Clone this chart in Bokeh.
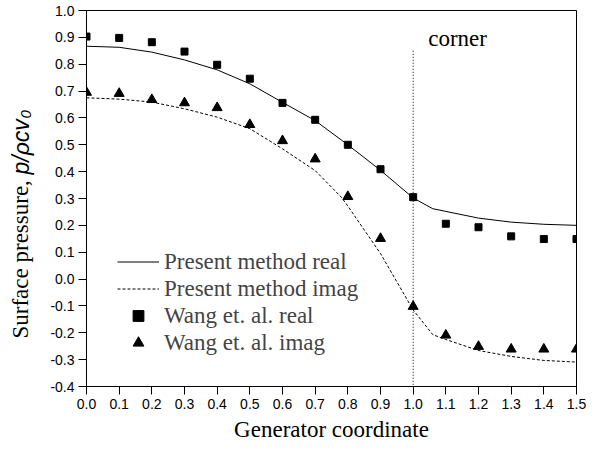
import numpy as np
from bokeh.plotting import figure
from bokeh.layouts import row
from bokeh.models import Legend, LegendItem, Label, Range1d, FixedTicker, PrintfTickFormatter
from bokeh.embed import file_html
from bokeh.resources import INLINE

# ---- data ----
wang_x = [0.0, 0.1, 0.2, 0.3, 0.4, 0.5, 0.6, 0.7, 0.8, 0.9, 1.0, 1.1, 1.2, 1.3, 1.4, 1.5]
wang_real = [0.903, 0.898, 0.882, 0.847, 0.798, 0.746, 0.656, 0.593, 0.500, 0.409, 0.305,
             0.206, 0.193, 0.159, 0.149, 0.149]
wang_imag = [0.695, 0.691, 0.668, 0.656, 0.638, 0.575, 0.515, 0.447, 0.307, 0.151, -0.102,
             -0.209, -0.251, -0.261, -0.261, -0.261]

line_x = [0.0, 0.1, 0.2, 0.3, 0.4, 0.5, 0.6, 0.7, 0.78, 0.8, 0.9, 1.0, 1.06, 1.1, 1.2, 1.3, 1.4, 1.5]
line_real = [0.867, 0.863, 0.845, 0.816, 0.779, 0.727, 0.658, 0.590, 0.518, 0.500, 0.405, 0.302,
             0.262, 0.252, 0.227, 0.212, 0.204, 0.200]
line_imag = [0.675, 0.670, 0.659, 0.634, 0.603, 0.560, 0.485, 0.404, 0.305, 0.272, 0.095, -0.115,
             -0.207, -0.225, -0.266, -0.288, -0.303, -0.309]

corner_x = [1.0, 1.0]
corner_y = [0.85, -0.4]

x_ticks = [round(0.1 * i, 1) for i in range(16)]
y_ticks = [round(-0.4 + 0.1 * i, 1) for i in range(15)]

series_labels = ["Present method real", "Present method imag", "Wang et. al. real", "Wang et. al. imag"]

SERIF = "Liberation Serif"
SANS = "Liberation Sans"

SIDE_W = 40
H = 452
TOP, BOTTOM = 10, 66

p = figure(width=596 - SIDE_W, height=H, output_backend="svg", toolbar_location=None,
           x_range=Range1d(0, 1.5), y_range=Range1d(-0.4, 1.0),
           min_border_left=86 - SIDE_W, min_border_right=20, min_border_top=TOP, min_border_bottom=BOTTOM)
p.background_fill_color = "white"
p.border_fill_color = "white"
p.outline_line_color = "black"
p.outline_line_width = 1
p.xgrid.grid_line_color = None
p.ygrid.grid_line_color = None

for ax, ticks in ((p.xaxis, x_ticks), (p.yaxis, y_ticks)):
    ax.ticker = FixedTicker(ticks=ticks)
    ax.formatter = PrintfTickFormatter(format="%.1f")
    ax.minor_tick_line_color = None
    ax.major_tick_in = 0
    ax.major_tick_out = 8
    ax.major_tick_line_color = "black"
    ax.axis_line_color = "black"
    ax.major_label_text_font = SANS
    ax.major_label_text_font_size = "14px"
    ax.major_label_text_color = "black"
    ax.major_label_standoff = 4

p.xaxis.axis_label = "Generator coordinate"
p.xaxis.axis_label_text_font = SERIF
p.xaxis.axis_label_text_font_size = "23px"
p.xaxis.axis_label_text_font_style = "normal"
p.xaxis.axis_label_text_color = "black"
p.xaxis.axis_label_standoff = 5

r1 = p.line(line_x, line_real, line_color="black", line_width=1)
r2 = p.line(line_x, line_imag, line_color="black", line_width=1, line_dash="3 2")
p.line(corner_x, corner_y, line_color="black", line_width=1, line_dash="1 2")
r3 = p.scatter(wang_x, wang_real, marker="square", size=7, fill_color="black", line_color="black")
r4 = p.scatter(wang_x, wang_imag, marker="triangle", size=10, fill_color="black", line_color="black")

legend = Legend(items=[LegendItem(label=series_labels[0], renderers=[r1]),
                       LegendItem(label=series_labels[1], renderers=[r2]),
                       LegendItem(label=series_labels[2], renderers=[r3]),
                       LegendItem(label=series_labels[3], renderers=[r4])],
                location=(31, 30), padding=0, margin=0, spacing=0,
                glyph_width=42, glyph_height=27, label_height=27, label_standoff=5,
                border_line_color=None, background_fill_alpha=0,
                label_text_font=SERIF, label_text_font_size="23px")
p.add_layout(legend)

p.add_layout(Label(x=1.046, y=0.896, text="corner", text_font=SERIF, text_font_size="23px",
                   text_baseline="middle", text_align="left", text_color="black"))

# ---- narrow side figure carrying the rotated y-axis title (mixed fonts) ----
side = figure(frame_width=SIDE_W, frame_height=H - TOP - BOTTOM, output_backend="svg",
              toolbar_location=None,
              x_range=Range1d(0, SIDE_W), y_range=Range1d(BOTTOM, H - TOP),
              min_border=0, min_border_left=0, min_border_right=0,
              min_border_top=TOP, min_border_bottom=BOTTOM)
side.axis.visible = False
side.grid.visible = False
side.outline_line_color = None
side.background_fill_color = "white"
side.border_fill_color = "white"

side.add_layout(Label(x=20, y=H - 338, angle=np.pi / 2,
                      text="Surface pressure,", text_font=SERIF, text_font_size="23px",
                      text_baseline="alphabetic", text_align="left", text_color="black"))
side.add_layout(Label(x=20, y=H - 174, angle=np.pi / 2,
                      text="p/\u03c1cv", text_font=SANS, text_font_size="23px", text_font_style="italic",
                      text_baseline="alphabetic", text_align="left", text_color="black"))
side.add_layout(Label(x=25, y=H - 118, angle=np.pi / 2,
                      text="0", text_font=SANS, text_font_size="15px", text_font_style="italic",
                      text_baseline="alphabetic", text_align="left", text_color="black"))

layout = row(side, p, spacing=0)
open("out.html", "w").write(file_html(layout, INLINE))
